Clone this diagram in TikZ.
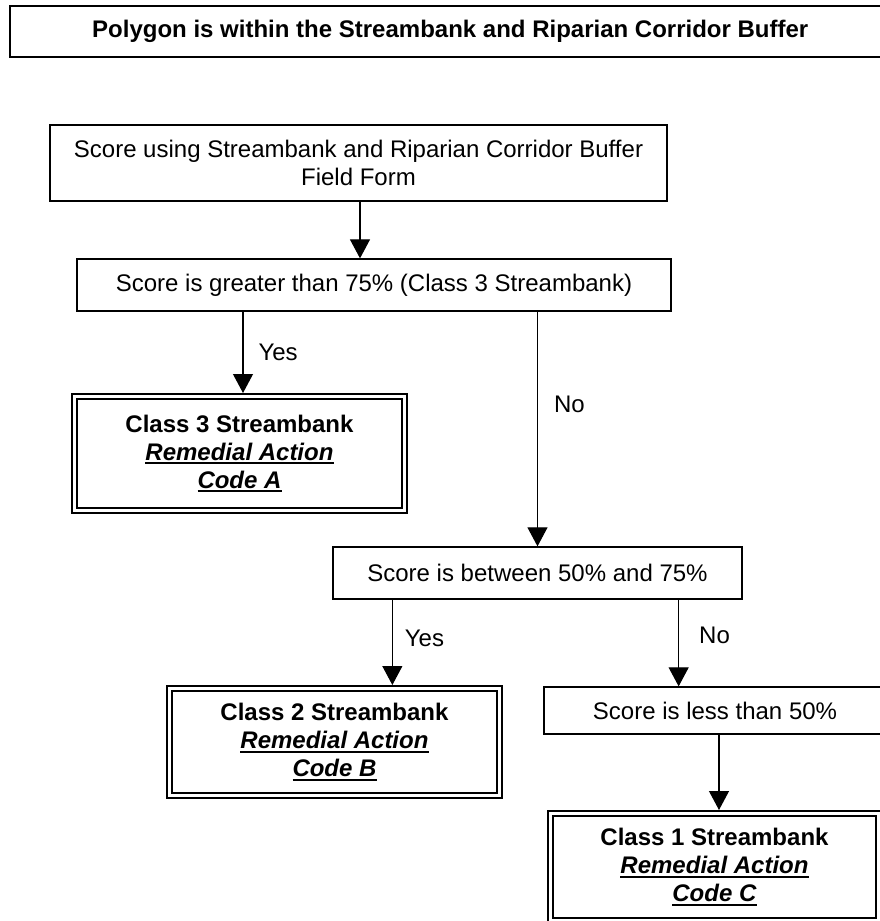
\documentclass[tikz,border=0pt]{standalone}
\usepackage{fontspec}
\setmainfont{Liberation Sans}
\usetikzlibrary{arrows.meta,calc}
\newcommand{\myul}[1]{\setbox0\hbox{#1}\rlap{\rule[-2pt]{\wd0}{1pt}}\box0}
\begin{document}
\begin{tikzpicture}[x=0.5pt,y=-0.5pt,
  every node/.style={font=\fontsize{12pt}{14pt}\selectfont},
  plainbox/.style={draw, line width=0.65pt, inner sep=0pt, align=center},
  titlebox/.style={draw, line width=1pt, inner sep=0pt, align=center},
  classbox/.style={draw, line width=1pt, double, double distance=1.5pt, inner sep=0pt, outer sep=1.75pt, align=center},
  arr/.style={line width=0.55pt, -{Triangle[width=10pt,length=9.5pt]}},
  lbl/.style={inner sep=0pt, anchor=west}]
\useasboundingbox (0,0) rectangle (879,921);
\node[titlebox, minimum width=440.75pt, minimum height=25.75pt] (title) at (450.25,31.25)
  {\bfseries Polygon is within the Streambank and Riparian Corridor Buffer};
\node[plainbox, minimum width=308.5pt, minimum height=38pt] (s1) at (358.5,163)
  {Score using Streambank and Riparian Corridor Buffer\\Field Form};
\node[plainbox, minimum width=297pt, minimum height=26pt] (s2) at (374,285)
  {Score is greater than 75\% (Class 3 Streambank)};
\node[classbox, minimum width=165pt, minimum height=57pt] (c3) at (239.5,453.5)
  {\textbf{Class 3 Streambank}\\\myul{\textbf{\textit{Remedial Action}}}\\\myul{\textbf{\textit{Code A}}}};
\node[plainbox, minimum width=204.5pt, minimum height=26pt] (s3) at (537.5,573)
  {Score is between 50\% and 75\%};
\node[classbox, minimum width=165pt, minimum height=53.5pt] (c2) at (334.5,742)
  {\textbf{Class 2 Streambank}\\\myul{\textbf{\textit{Remedial Action}}}\\\myul{\textbf{\textit{Code B}}}};
\node[plainbox, minimum width=171pt, minimum height=23.5pt] (s4) at (715,710.5)
  {Score is less than 50\%};
\node[classbox, minimum width=164pt, minimum height=53.5pt] (c1) at (714.5,867)
  {\textbf{Class 1 Streambank}\\\myul{\textbf{\textit{Remedial Action}}}\\\myul{\textbf{\textit{Code C}}}};
\coordinate (a1) at ($(s1.south)+(1.5,0)$);
\draw[arr] (a1) -- (a1 |- s2.north);
\coordinate (a2) at ($(c3.north)+(3.5,0)$);
\draw[arr] (a2 |- s2.south) -- (a2 |- c3.north) node[lbl, pos=0.5, xshift=7.5pt] {Yes};
\draw[arr] (s3.north |- s2.south) -- (s3.north) node[lbl, pos=0.394, xshift=8pt] {No};
\coordinate (a4) at ($(s3.south west)+(60,0)$);
\draw[arr] (a4) -- (a4 |- c2.north) node[lbl, pos=0.45, xshift=6pt] {Yes};
\coordinate (a5) at ($(s3.south east)+(-64,0)$);
\draw[arr] (a5) -- (a5 |- s4.north) node[lbl, pos=0.41, xshift=10pt] {No};
\coordinate (a6) at ($(s4.south)+(4,0)$);
\draw[arr] (a6) -- (a6 |- c1.north);
\end{tikzpicture}
\end{document}
